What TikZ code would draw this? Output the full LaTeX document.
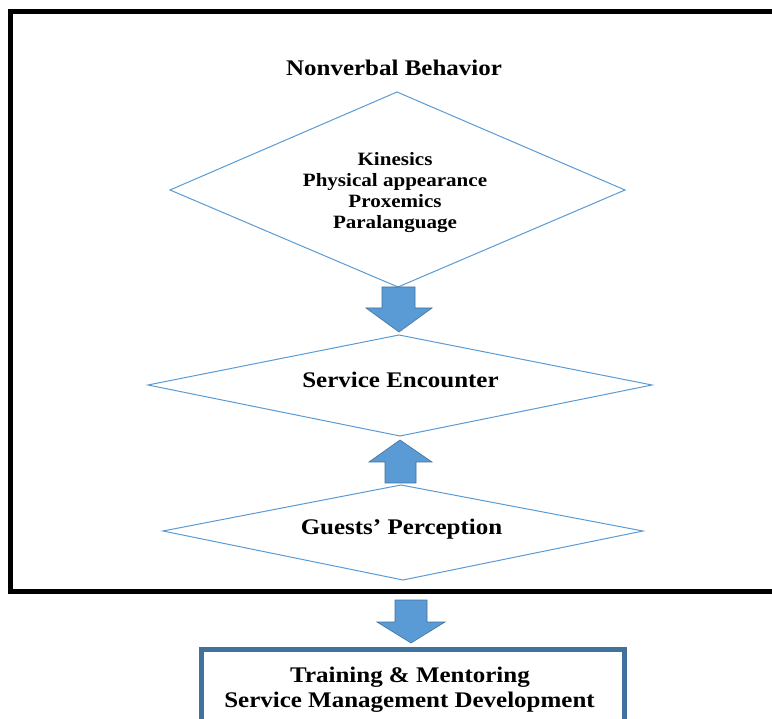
\documentclass[tikz,border=0pt]{standalone}
\usepackage{fontspec}
\newfontfamily\tnr{Liberation Serif}[FakeStretch=1.12]
\definecolor{dline}{HTML}{5B9BD5}
\definecolor{afill}{HTML}{5B9BD5}
\definecolor{aedge}{HTML}{41719C}
\definecolor{boxc}{HTML}{41719C}
\tikzset{
  diam/.style={draw=dline, line width=1pt, line join=miter},
  blockarrow/.style={fill=afill, draw=aedge, line width=0.6pt, line join=miter},
  bigtxt/.style={font=\tnr\bfseries\fontsize{22.3}{26}\selectfont, inner sep=0pt, anchor=base, align=center},
  smalltxt/.style={font=\tnr\bfseries\fontsize{18.8}{21}\selectfont, inner sep=0pt, anchor=base, align=center},
}
\begin{document}
\begin{tikzpicture}[x=1pt,y=-1pt]
\useasboundingbox (0,0) rectangle (772,719);
\clip (0,0) rectangle (772,719);
\fill[white] (0,0) rectangle (772,719);

% outer frame (right and lower parts run off the picture)
\draw[line width=5pt] (10.5,12) rectangle (800,591.5);

% diamond 1
\coordinate (d1t) at (397,92);
\coordinate (d1l) at (170,190);
\coordinate (d1r) at (625,190);
\coordinate (d1b) at (398,287);
\draw[diam] (d1t) -- (d1r) -- (d1b) -- (d1l) -- cycle;
% diamond 2
\coordinate (d2t) at (399,335);
\coordinate (d2l) at (148,385);
\coordinate (d2r) at (652,385);
\coordinate (d2b) at (400,436);
\draw[diam] (d2t) -- (d2r) -- (d2b) -- (d2l) -- cycle;
% diamond 3
\coordinate (d3t) at (401,485);
\coordinate (d3l) at (163,531);
\coordinate (d3r) at (643,531);
\coordinate (d3b) at (403,580);
\draw[diam] (d3t) -- (d3r) -- (d3b) -- (d3l) -- cycle;

% texts
\node[bigtxt] (nvb) at (394,76) {Nonverbal Behavior};
\node[smalltxt] (kin) at (395,166) {Kinesics};
\node[smalltxt] (phy) at (395,187) {Physical appearance};
\node[smalltxt] (pro) at (395,208) {Proxemics};
\node[smalltxt] (par) at (395,229) {Paralanguage};
\node[bigtxt] (se) at (400.5,388) {Service Encounter};
\node[bigtxt] (gp) at (401.5,534) {Guests’ Perception};

% block arrows
\draw[blockarrow] (382,287) -- (415,287) -- (415,308) -- (432,308) -- (399,332)
  -- (366,308) -- (382,308) -- cycle;
\draw[blockarrow] (385,483) -- (416,483) -- (416,462) -- (432,462) -- (400,440)
  -- (369,462) -- (385,462) -- cycle;
\draw[blockarrow] (395,600) -- (427,600) -- (427,622) -- (445,622) -- (411,643)
  -- (377,622) -- (395,622) -- cycle;

% bottom box (runs off the lower edge)
\draw[boxc, line width=5pt] (201,740) -- (201,649) -- (624,649) -- (624,740);
\node[bigtxt] (tm) at (410,682) {Training \& Mentoring};
\node[bigtxt] (smd) at (409.5,707) {Service Management Development};
\end{tikzpicture}
\end{document}
